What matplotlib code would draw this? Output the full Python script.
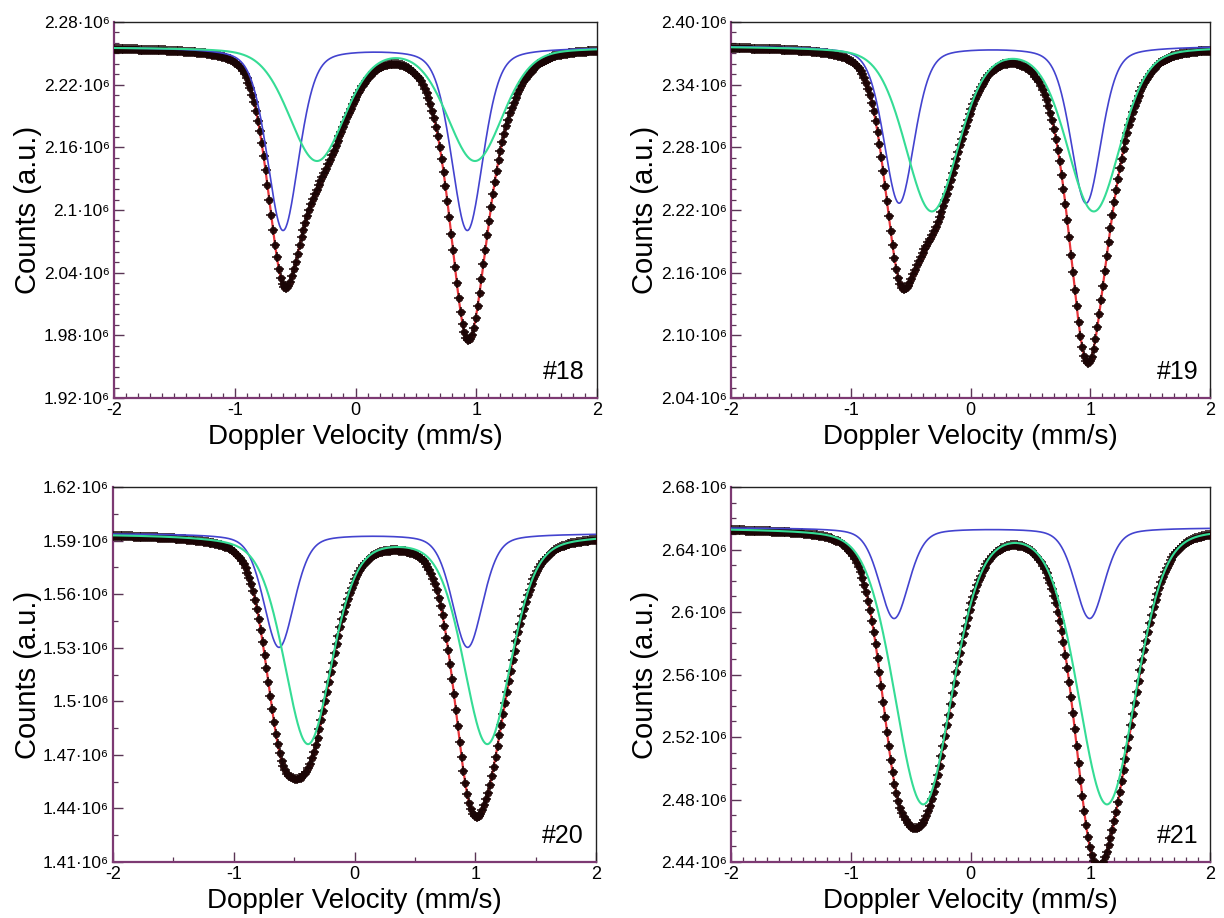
import numpy as np
import matplotlib
matplotlib.use("Agg")
import matplotlib.pyplot as plt
from matplotlib.ticker import MultipleLocator

plt.rcParams['font.family'] = ['Liberation Sans', 'DejaVu Sans']

# ---------------- data ----------------
panel_labels = ["#18", "#19", "#20", "#21"]
# baseline counts (x1e6)
baselines = [2.256, 2.377, 1.594, 2.654]
# blue doublet: line positions (mm/s), depth (x1e6), HWHM (mm/s)
blue_centers = [[-0.60, 0.926], [-0.596, 0.965], [-0.625, 0.937], [-0.638, 0.995]]
blue_depths = [0.175, 0.150, 0.0636, 0.058]
blue_widths = [0.155, 0.150, 0.150, 0.147]
blue_eta = [0.35, 0.35, 0.35, 0.35]
# green doublet
green_centers = [[-0.32, 0.99], [-0.323, 1.03], [-0.385, 1.10], [-0.395, 1.14]]
green_depths = [0.108, 0.157, 0.117, 0.176]
green_widths = [0.27, 0.26, 0.235, 0.28]
green_eta = [0.25, 0.25, 0.35, 0.20]
# axis ranges & ticks (x1e6)
y_limits = [(1.92, 2.28), (2.04, 2.40), (1.41, 1.62), (2.44, 2.68)]
y_ticks = [[1.92, 1.98, 2.04, 2.10, 2.16, 2.22, 2.28],
           [2.04, 2.10, 2.16, 2.22, 2.28, 2.34, 2.40],
           [1.41, 1.44, 1.47, 1.50, 1.53, 1.56, 1.59, 1.62],
           [2.44, 2.48, 2.52, 2.56, 2.60, 2.64, 2.68]]
y_ticklabels = [["1.92·10⁶", "1.98·10⁶", "2.04·10⁶", "2.1·10⁶", "2.16·10⁶", "2.22·10⁶", "2.28·10⁶"],
                ["2.04·10⁶", "2.10·10⁶", "2.16·10⁶", "2.22·10⁶", "2.28·10⁶", "2.34·10⁶", "2.40·10⁶"],
                ["1.41·10⁶", "1.44·10⁶", "1.47·10⁶", "1.5·10⁶", "1.53·10⁶", "1.56·10⁶", "1.59·10⁶", "1.62·10⁶"],
                ["2.44·10⁶", "2.48·10⁶", "2.52·10⁶", "2.56·10⁶", "2.6·10⁶", "2.64·10⁶", "2.68·10⁶"]]
y_minor = [0.01, 0.01, 0.015, 0.01]
x_minor = [0.1, 0.1, 0.5, 0.1]
x_ticks = [-2, -1, 0, 1, 2]
n_channels = 256


def doublet(v, centers, depth, hwhm, eta):
    out = np.zeros_like(v)
    for c in centers:
        d2 = (v - c) ** 2
        lor = hwhm ** 2 / (d2 + hwhm ** 2)
        gau = np.exp(-np.log(2) * d2 / hwhm ** 2)
        out += depth * (eta * lor + (1 - eta) * gau)
    return out


W, H = 1224, 918
fig = plt.figure(figsize=(W / 100, H / 100), dpi=100)
boxes = [(114, 22, 597, 398), (731, 22, 1210, 398),
         (113, 487, 596, 862), (731, 487, 1210, 862)]

purple = '#7d3a73'
red = '#e8353b'
blue = '#4343cf'
green = '#35dc95'

v_line = np.linspace(-2, 2, 801)
v_pts = np.linspace(-2, 2, n_channels)

for i in range(4):
    l, t, r, b = boxes[i]
    ax = fig.add_axes([l / W, 1 - b / H, (r - l) / W, (b - t) / H])
    base = baselines[i]
    bl = doublet(v_line, blue_centers[i], blue_depths[i], blue_widths[i], blue_eta[i])
    gl = doublet(v_line, green_centers[i], green_depths[i], green_widths[i], green_eta[i])
    total = base - bl - gl
    bp = doublet(v_pts, blue_centers[i], blue_depths[i], blue_widths[i], blue_eta[i])
    gp = doublet(v_pts, green_centers[i], green_depths[i], green_widths[i], green_eta[i])
    pts = base - bp - gp

    ax.plot(v_line, total * 1e6, color=red, lw=1.6, zorder=2)
    ax.plot(v_pts, pts * 1e6, 'o', ms=4.8, color='#2e0b0b', mec='#1a0505', mew=0.5, zorder=3)
    ax.plot(v_pts, pts * 1e6, '+', ms=7.5, color='#1a0505', mew=1.1, zorder=3)
    ax.plot(v_line, (base - bl) * 1e6, color=blue, lw=1.2, zorder=4)
    ax.plot(v_line, (base - gl) * 1e6, color=green, lw=1.5, zorder=5)

    ax.set_xlim(-2, 2)
    ax.set_ylim(y_limits[i][0] * 1e6, y_limits[i][1] * 1e6)
    ax.set_xticks(x_ticks)
    ax.set_xticklabels([str(x) for x in x_ticks], fontsize=13)
    ax.xaxis.set_minor_locator(MultipleLocator(x_minor[i]))
    ax.set_yticks([y * 1e6 for y in y_ticks[i]])
    ax.set_yticklabels(y_ticklabels[i], fontsize=12.5)
    ax.yaxis.set_minor_locator(MultipleLocator(y_minor[i] * 1e6))
    ax.tick_params(which='both', direction='in', top=False, right=False, color='#5a3555')
    ax.tick_params(which='major', length=7, width=1.0)
    ax.tick_params(which='minor', length=3.5, width=0.9)
    ax.tick_params(axis='y', pad=3)
    ax.tick_params(axis='x', pad=3)
    for s in ['left', 'bottom']:
        ax.spines[s].set_color(purple)
        ax.spines[s].set_linewidth(1.6)
    for s in ['top', 'right']:
        ax.spines[s].set_color('#222222')
        ax.spines[s].set_linewidth(1.0)

    ax.set_ylabel("Counts (a.u.)", fontsize=21)
    ax.yaxis.set_label_coords(-(l - 42) / (r - l) if l < 200 else -(l - 659) / (r - l), 0.5)
    ax.set_xlabel("Doppler Velocity (mm/s)", fontsize=20)
    ax.xaxis.set_label_coords(0.5, -0.068)
    ax.text(0.975, 0.07, panel_labels[i], transform=ax.transAxes, ha='right', va='center',
            fontsize=18)

fig.savefig("out.png", dpi=100)
